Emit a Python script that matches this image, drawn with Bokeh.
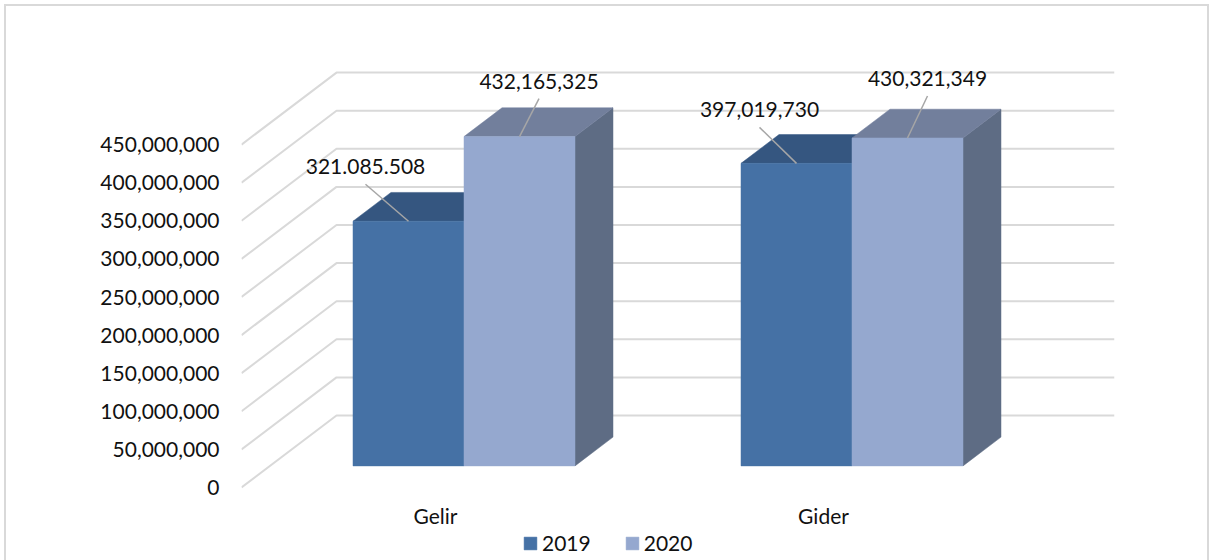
from bokeh.plotting import figure
from bokeh.embed import file_html
from bokeh.resources import INLINE
from bokeh.core.properties import value
from bokeh.models import (Range1d, FixedTicker, NumeralTickFormatter, Legend, LegendItem)

categories = ["Gelir", "Gider"]
series_names = ["2019", "2020"]
values_2019 = [321085508, 397019730]
values_2020 = [432165325, 430321349]
label_2019 = ["321.085.508", "397,019,730"]
label_2020 = ["432,165,325", "430,321,349"]
y_ticks = [0, 50000000, 100000000, 150000000, 200000000, 250000000, 300000000, 350000000, 400000000, 450000000]

# layout (pixels)
W, H = 1211, 560
FL, FR, FT, Y0, FB = 241, 1114, 60, 487, 556   # frame edges; Y0 = pixel row of value 0
PX_CAT = 388.0                           # px per category
PX_VAL = 38.1 / 50000000                 # px per value unit
DX, DY = 95 / PX_CAT, 72 / PX_VAL        # full wall depth, in data units
BAR_W = 111 / PX_CAT
NEAR, FAR = 0.3, 0.7                     # depth share of bars

C = {"2019": ("#4571a5", "#355680", "#3a5a85"), "2020": ("#95a8cf", "#727f9c", "#5e6c84")}
FONT = "Lato"
FS = "21px"
GRID = "#d9d9d9"
g = f"linear-gradient({GRID},{GRID})"
frame_css = f"{g} 4px 4px/1205px 2px no-repeat, {g} 4px 4px/2px 100% no-repeat, {g} 1207px 4px/2px 100% no-repeat"

p = figure(width=W, height=H, output_backend="svg", toolbar_location=None,
           x_range=Range1d(0, (FR - FL) / PX_CAT), y_range=Range1d(-(FB - Y0) / PX_VAL, (Y0 - FT) / PX_VAL),
           min_border_left=FL, min_border_right=W - FR, min_border_top=FT, min_border_bottom=H - FB,
           x_axis_location="below", y_axis_location="left",
           styles={"background": frame_css})
p.outline_line_color = None
p.border_fill_color = None
p.background_fill_color = None
p.xgrid.visible = False
p.ygrid.visible = False

# axes
ya = p.yaxis[0]
ya.ticker = FixedTicker(ticks=y_ticks)
ya.formatter = NumeralTickFormatter(format="0,0")
ya.axis_line_color = None
ya.major_tick_line_color = None
ya.minor_tick_line_color = None
ya.major_label_standoff = 16
ya.major_label_text_font = FONT
ya.major_label_text_font_size = FS
ya.major_label_text_color = "#111111"
xa = p.xaxis[0]
xa.ticker = FixedTicker(ticks=[0.5, 1.5])
xa.major_label_overrides = {0.5: categories[0], 1.5: categories[1]}
xa.fixed_location = 0
xa.axis_line_color = None
xa.major_tick_line_color = None
xa.minor_tick_line_color = None
xa.major_label_standoff = 9
xa.major_label_text_font = FONT
xa.major_label_text_font_size = FS
xa.major_label_text_color = "#111111"

# gridlines: side wall plus back wall
gx = [[0, DX, (FR - FL) / PX_CAT] for _ in y_ticks]
gy = [[v, v + DY, v + DY] for v in y_ticks]
p.multi_line(gx, gy, line_color=GRID, line_width=2)


def bars(vals, idx, name):
    front, top, side = C[name]
    fx, fy, tx, ty, sx, sy = [], [], [], [], [], []
    nx, ny = DX * NEAR, DY * NEAR
    dx, dy = DX * (FAR - NEAR), DY * (FAR - NEAR)
    for i, v in enumerate(vals):
        x0 = i + 0.5 - BAR_W + idx * BAR_W + nx
        x1 = x0 + BAR_W
        b, t = ny, ny + v
        fx.append([x0, x1, x1, x0]); fy.append([b, b, t, t])
        tx.append([x0, x1, x1 + dx, x0 + dx]); ty.append([t, t, t + dy, t + dy])
        sx.append([x1, x1 + dx, x1 + dx, x1]); sy.append([b, b + dy, t + dy, t])
    p.patches(sx, sy, fill_color=side, line_color=side, line_width=0.5)
    p.patches(tx, ty, fill_color=top, line_color=top, line_width=0.5)
    return p.patches(fx, fy, fill_color=front, line_color=front, line_width=0.5)


r19 = bars(values_2019, 0, "2019")
r20 = bars(values_2020, 1, "2020")

# data labels with leader lines (offsets in px from bar-top centre)
offsets_2019 = [(-43, 37), (-37, 36)]
offsets_2020 = [(19.5, 38), (20, 42)]
lead_x0, lead_y0, lead_x1, lead_y1, txt, tx_, ty_ = [], [], [], [], [], [], []
for idx, (vals, labs, offs) in enumerate([(values_2019, label_2019, offsets_2019), (values_2020, label_2020, offsets_2020)]):
    for i, (v, lab, o) in enumerate(zip(vals, labs, offs)):
        cx = i + 0.5 - BAR_W + idx * BAR_W + DX * NEAR + BAR_W / 2
        cy = DY * NEAR + v
        ex, ey = cx + o[0] / PX_CAT, cy + o[1] / PX_VAL
        lead_x0.append(cx); lead_y0.append(cy); lead_x1.append(ex); lead_y1.append(ey)
        txt.append(lab); tx_.append(ex); ty_.append(ey)
p.segment(lead_x0, lead_y0, lead_x1, lead_y1, line_color="#a6a6a6", line_width=1.5)
p.text(tx_, ty_, text=txt, text_font=value(FONT), text_font_size=FS, text_color="#111111",
       text_align="center", text_baseline="bottom", y_offset=[-10, -10, -10, -10])

# legend
leg = Legend(items=[LegendItem(label=series_names[0], renderers=[r19]),
                    LegendItem(label=series_names[1], renderers=[r20])],
             orientation="horizontal", location=(281, 1), glyph_width=16, glyph_height=16,
             label_standoff=4, spacing=33, padding=0, margin=0, background_fill_alpha=0, border_line_alpha=0,
             label_text_font=FONT, label_text_font_size=FS, label_text_color="#111111")
p.add_layout(leg, "center")

open("out.html", "w").write(file_html(p, INLINE))
